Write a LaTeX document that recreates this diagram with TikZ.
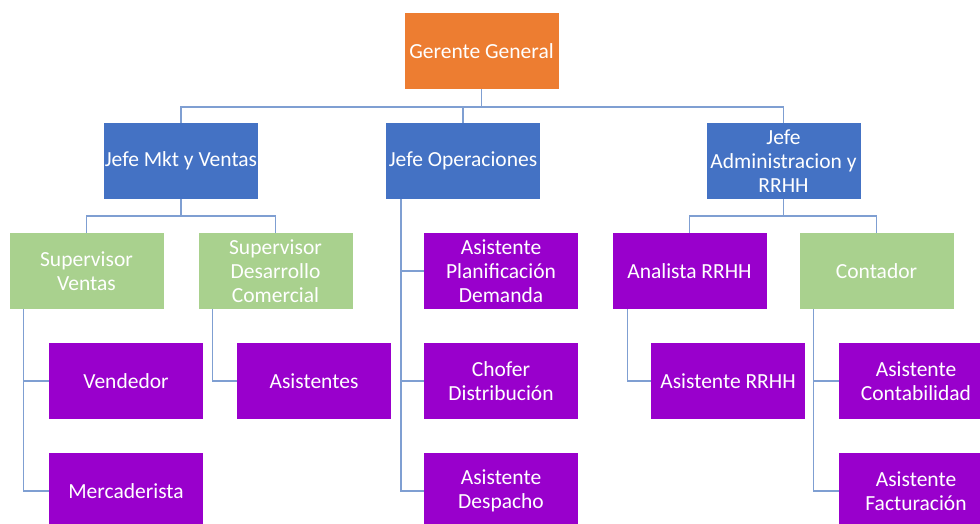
\documentclass[tikz,border=0pt]{standalone}
\usepackage{fontspec}
\setmainfont{Carlito}
\usepackage{tikz}
\definecolor{naranja}{HTML}{ED7D31}
\definecolor{azul}{HTML}{4472C4}
\definecolor{verde}{HTML}{A9D18E}
\definecolor{morado}{HTML}{9900CC}
\definecolor{linea}{HTML}{7F9FD2}
\tikzstyle{cargo} = [
  rectangle,
  minimum width=154pt,
  minimum height=76pt,
  inner sep=0pt,
  align=center,
  text=white,
  font=\fontsize{21.5}{24}\selectfont,
]
\tikzstyle{gerencia} = [cargo, fill=naranja]
\tikzstyle{jefe} = [cargo, fill=azul]
\tikzstyle{supervisor} = [cargo, fill=verde]
\tikzstyle{asistente} = [cargo, fill=morado]
\tikzstyle{conector} = [
  draw=linea,
  line width=1.6pt,
]

\begin{document}
\begin{tikzpicture}[
    x=1pt,
    y=-1pt,
  ]
  \useasboundingbox (0,0) rectangle (980,524);
  \clip (0,0) rectangle (980,524);
  % nivel 1
  \node[gerencia] (gerente) at (481.5,51) {Gerente General};
  % nivel 2
  \node[jefe] (jefemkt) at (181,161) {Jefe Mkt y Ventas};
  \node[jefe] (jefeops) at (463,161) {Jefe Operaciones};
  \node[jefe] (jefeadm) at (783.5,161) {Jefe\\Administracion y\\RRHH};
  % nivel 3
  \node[supervisor] (supventas) at (86.5,271) {Supervisor\\Ventas};
  \node[supervisor] (supdes) at (275.5,271) {Supervisor\\Desarrollo\\Comercial};
  \node[asistente] (asplan) at (501,271) {Asistente\\Planificación\\Demanda};
  \node[asistente] (analista) at (689.5,271) {Analista RRHH};
  \node[supervisor] (contador) at (876.5,271) {Contador};
  % nivel 4
  \node[asistente] (vendedor) at (126,381) {Vendedor};
  \node[asistente] (asistentes) at (314,381) {Asistentes};
  \node[asistente] (chofer) at (501,381) {Chofer\\Distribución};
  \node[asistente] (asrrhh) at (728,381) {Asistente RRHH};
  \node[asistente] (ascont) at (916,381) {Asistente\\Contabilidad};
  % nivel 5
  \node[asistente] (mercaderista) at (126,491) {Mercaderista};
  \node[asistente] (asdesp) at (501,491) {Asistente\\Despacho};
  \node[asistente] (asfact) at (916,491) {Asistente\\Facturación};
  % conectores
  \foreach \j in {jefemkt,jefeops,jefeadm}
    \path[conector] (gerente.south) -- ++(0,18) -| (\j.north);
  \foreach \s in {supventas,supdes}
    \path[conector] (jefemkt.south) -- ++(0,17) -| (\s.north);
  \foreach \s in {analista,contador}
    \path[conector] (jefeadm.south) -- ++(0,17) -| (\s.north);
  \foreach \a in {vendedor,mercaderista}
    \path[conector] ([xshift=14pt]supventas.south west) |- (\a.west);
  \path[conector] ([xshift=14pt]supdes.south west) |- (asistentes.west);
  \foreach \a in {asplan,chofer,asdesp}
    \path[conector] ([xshift=15pt]jefeops.south west) |- (\a.west);
  \path[conector] ([xshift=15pt]analista.south west) |- (asrrhh.west);
  \foreach \a in {ascont,asfact}
    \path[conector] ([xshift=14pt]contador.south west) |- (\a.west);
\end{tikzpicture}
\end{document}
